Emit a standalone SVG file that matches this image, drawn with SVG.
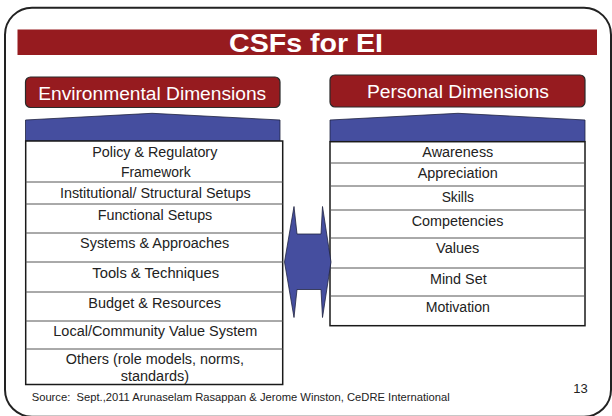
<svg xmlns="http://www.w3.org/2000/svg" width="612" height="416" viewBox="0 0 612 416">
<style>
  text { font-family: "Liberation Sans", Arial, sans-serif; }
  .title { font-size: 26px; font-weight: bold; fill: #ffffff; }
  .hdr { font-size: 18px; fill: #ffffff; }
  .hbox { fill: #961b1f; stroke: #2a2a2a; stroke-width: 1.2; }
  .blue { fill: #454e9f; stroke: #1f2340; stroke-width: 0.8; }
  .tbl { fill: #ffffff; stroke: #1a1a1a; stroke-width: 1.5; }
  .row { stroke: #555555; stroke-width: 1; }
  .cell { font-size: 14px; fill: #222222; text-anchor: middle; }
  .src { font-size: 11px; fill: #222222; }
</style>
<rect width="612" height="416" fill="#ffffff"/>
<rect id="frame" x="5" y="7.7" width="606" height="409" rx="27" ry="27" fill="none" stroke="#222222" stroke-width="2"/>

<g id="title">
  <rect x="17.5" y="29.5" width="579.5" height="25.5" fill="#961b1f"/>
  <text class="title" x="306" y="51.5" text-anchor="middle" textLength="154" lengthAdjust="spacingAndGlyphs">CSFs for EI</text>
</g>

<g id="env-header">
  <rect class="hbox" x="25.5" y="77" width="254.5" height="30.5" rx="5" ry="5"/>
  <text class="hdr" x="152.2" y="99.5" text-anchor="middle" textLength="228" lengthAdjust="spacingAndGlyphs">Environmental Dimensions</text>
</g>

<g id="pers-header">
  <rect class="hbox" x="330" y="75" width="255" height="32" rx="5" ry="5"/>
  <text class="hdr" x="458" y="97.5" text-anchor="middle" textLength="182" lengthAdjust="spacingAndGlyphs">Personal Dimensions</text>
</g>

<g id="env-banner">
  <polygon class="blue" points="25.5,120 152,113.3 280,120 280,141 25.5,141"/>
</g>
<g id="pers-banner">
  <polygon class="blue" points="330,120 458,113.3 585,120 585,141.5 330,141.5"/>
</g>

<g id="env-table">
  <rect class="tbl" x="25.7" y="141" width="257" height="243.5"/>
  <g class="row">
    <line x1="25.7" y1="182" x2="282.7" y2="182"/>
    <line x1="25.7" y1="204" x2="282.7" y2="204"/>
    <line x1="25.7" y1="233" x2="282.7" y2="233"/>
    <line x1="25.7" y1="262" x2="282.7" y2="262"/>
    <line x1="25.7" y1="292" x2="282.7" y2="292"/>
    <line x1="25.7" y1="321" x2="282.7" y2="321"/>
    <line x1="25.7" y1="349" x2="282.7" y2="349"/>
  </g>
  <text class="cell" x="154.8" y="157" textLength="125" lengthAdjust="spacingAndGlyphs">Policy &amp; Regulatory</text>
  <text class="cell" x="155.8" y="177" textLength="69.7" lengthAdjust="spacingAndGlyphs">Framework</text>
  <text class="cell" x="155.3" y="198" textLength="190.7" lengthAdjust="spacingAndGlyphs">Institutional/ Structural Setups</text>
  <text class="cell" x="155" y="220" textLength="114.6" lengthAdjust="spacingAndGlyphs">Functional Setups</text>
  <text class="cell" x="154.7" y="248" textLength="149.3" lengthAdjust="spacingAndGlyphs">Systems &amp; Approaches</text>
  <text class="cell" x="155.7" y="278" textLength="126.7" lengthAdjust="spacingAndGlyphs">Tools &amp; Techniques</text>
  <text class="cell" x="154.7" y="308" textLength="132.7" lengthAdjust="spacingAndGlyphs">Budget &amp; Resources</text>
  <text class="cell" x="155.3" y="336" textLength="204" lengthAdjust="spacingAndGlyphs">Local/Community Value System</text>
  <text class="cell" x="154.9" y="364" textLength="178.3" lengthAdjust="spacingAndGlyphs">Others (role models, norms,</text>
  <text class="cell" x="154.9" y="381" textLength="68.3" lengthAdjust="spacingAndGlyphs">standards)</text>
</g>

<g id="pers-table">
  <rect class="tbl" x="330" y="141.7" width="255" height="184"/>
  <g class="row">
    <line x1="330" y1="163" x2="585" y2="163"/>
    <line x1="330" y1="186" x2="585" y2="186"/>
    <line x1="330" y1="210" x2="585" y2="210"/>
    <line x1="330" y1="238" x2="585" y2="238"/>
    <line x1="330" y1="268" x2="585" y2="268"/>
    <line x1="330" y1="296" x2="585" y2="296"/>
  </g>
  <text class="cell" x="457.8" y="156.5" textLength="71" lengthAdjust="spacingAndGlyphs">Awareness</text>
  <text class="cell" x="457.7" y="178" textLength="80" lengthAdjust="spacingAndGlyphs">Appreciation</text>
  <text class="cell" x="457.8" y="201.5" textLength="32.3" lengthAdjust="spacingAndGlyphs">Skills</text>
  <text class="cell" x="457.5" y="225.5" textLength="91.7" lengthAdjust="spacingAndGlyphs">Competencies</text>
  <text class="cell" x="457.7" y="253" textLength="43.3" lengthAdjust="spacingAndGlyphs">Values</text>
  <text class="cell" x="458.3" y="284" textLength="56.7" lengthAdjust="spacingAndGlyphs">Mind Set</text>
  <text class="cell" x="457.8" y="312" textLength="64.3" lengthAdjust="spacingAndGlyphs">Motivation</text>
</g>

<g id="connectors">
  <polygon class="blue" points="294,206.5 297,234 321,234 322.5,206.5 331,262 322.5,317.5 321,289.5 297,289.5 294,317.5 284.5,262"/>
</g>

<g id="footer">
  <text class="src" x="31.7" y="400.5" textLength="418" lengthAdjust="spacingAndGlyphs">Source:&#160; Sept.,2011 Arunaselam Rasappan &amp; Jerome Winston, CeDRE International</text>
  <text x="580.5" y="392.5" text-anchor="middle" font-size="13" fill="#222222" font-family="Liberation Sans, Arial, sans-serif">13</text>
</g>
</svg>
